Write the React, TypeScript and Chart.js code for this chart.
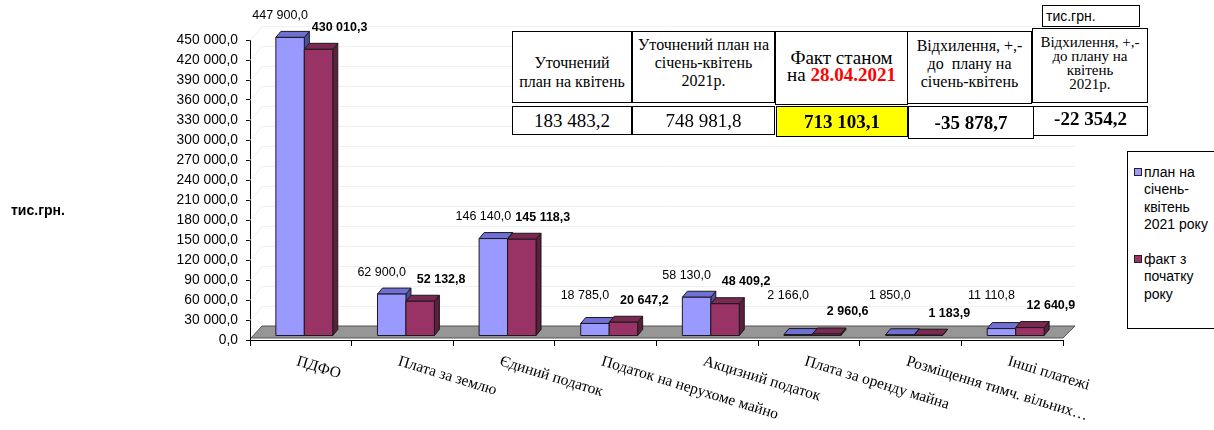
import React, { useEffect, useRef } from "react";
import { Chart, registerables } from "chart.js";

Chart.register(...registerables);

// ---------- data ----------
const categories = [
  "ПДФО",
  "Плата за землю",
  "Єдиний податок",
  "Податок на нерухоме майно",
  "Акцизний податок",
  "Плата за оренду майна",
  "Розміщення тимч. вільних…",
  "Інші платежі",
];
const planValues = [447900.0, 62900.0, 146140.0, 18785.0, 58130.0, 2166.0, 1850.0, 11110.8];
const factValues = [430010.3, 52132.8, 145118.3, 20647.2, 48409.2, 2960.6, 1183.9, 12640.9];
const seriesNames = ["план на січень-квітень 2021 року", "факт з початку року"];
const legendLines = [
  ["план на", "січень-", "квітень", "2021 року"],
  ["факт з", "початку", "року"],
];
const yMin = 0;
const yMax = 450000;
const yStep = 30000;
const unitLabel = "тис.грн.";
const tableHeaders = [
  ["Уточнений", "план на квітень"],
  ["Уточнений план на", "січень-квітень", "2021р."],
  ["Факт станом", "на "],
  ["Відхилення, +,-", "до  плану на", "січень-квітень"],
  ["Відхилення, +,-", "до плану на", "квітень", "2021р."],
];
const factDate = "28.04.2021";
const tableValues = [183483.2, 748981.8, 713103.1, -35878.7, -22354.2];

// ---------- helpers ----------
function fmt(v: number): string {
  const s = Math.abs(v).toFixed(1);
  const [i, d] = s.split(".");
  const g = i.replace(/\B(?=(\d{3})+(?!\d))/g, " ");
  return (v < 0 ? "-" : "") + g + "," + d;
}

const SANS = "'Liberation Sans', Arial, sans-serif";
const SERIF = "'Liberation Serif', 'Times New Roman', serif";

const DX = 3.5;
const DY = -4;
const DEPTH_X = 5;
const DEPTH_Y = 6;
const faceColors = [
  { front: "#9999FF", top: "#7070D4", side: "#4D4DA8" },
  { front: "#993366", top: "#7A2952", side: "#5C1F3D" },
];

function poly(ctx: CanvasRenderingContext2D, pts: number[][], fill: string) {
  ctx.beginPath();
  ctx.moveTo(pts[0][0], pts[0][1]);
  for (let k = 1; k < pts.length; k++) ctx.lineTo(pts[k][0], pts[k][1]);
  ctx.closePath();
  ctx.fillStyle = fill;
  ctx.fill();
  ctx.stroke();
}

const excel3d = {
  id: "excel3d",
  beforeDatasetsDraw(chart: any) {
    const { ctx, chartArea, scales } = chart;
    const { left, right, bottom } = chartArea;
    const y = scales.y;
    ctx.save();
    // faint back-wall grid lines
    ctx.strokeStyle = "#f0f0f0";
    ctx.lineWidth = 1;
    for (let v = yMin + yStep; v <= yMax; v += yStep) {
      const py = Math.round(y.getPixelForValue(v)) + 0.5;
      ctx.beginPath();
      ctx.moveTo(left, py);
      ctx.lineTo(left + 12, py - 14);
      ctx.lineTo(right + 12, py - 14);
      ctx.stroke();
    }
    // floor
    ctx.strokeStyle = "#555";
    ctx.lineWidth = 1;
    poly(
      ctx,
      [
        [left + 1, bottom - 2],
        [left + 12, bottom - 14],
        [right + 12, bottom - 14],
        [right, bottom - 2],
      ],
      "#969696"
    );
    ctx.restore();
  },
  afterDatasetsDraw(chart: any) {
    const { ctx, chartArea, scales } = chart;
    const x = scales.x;
    ctx.save();
    ctx.lineWidth = 1;
    ctx.strokeStyle = "#1a1a1a";
    ctx.lineJoin = "round";
    const tops: number[][] = [[], []];
    const centers: number[][] = [[], []];
    for (let i = 0; i < categories.length; i++) {
      for (let d = 0; d < 2; d++) {
        const el = chart.getDatasetMeta(d).data[i];
        const p = el.getProps(["x", "y", "base", "width"], true);
        const l = p.x - p.width / 2 + DX;
        const r = p.x + p.width / 2 + DX;
        const t = p.y + DY;
        const b = p.base + DY;
        const c = faceColors[d];
        poly(ctx, [[r, b], [r + DEPTH_X, b - DEPTH_Y], [r + DEPTH_X, t - DEPTH_Y], [r, t]], c.side);
        poly(ctx, [[l, t], [l + DEPTH_X, t - DEPTH_Y], [r + DEPTH_X, t - DEPTH_Y], [r, t]], c.top);
        poly(ctx, [[l, t], [r, t], [r, b], [l, b]], c.front);
        tops[d][i] = t;
        centers[d][i] = (l + r) / 2;
      }
    }
    // data labels
    ctx.fillStyle = "#000";
    ctx.textAlign = "center";
    ctx.textBaseline = "middle";
    for (let i = 0; i < categories.length; i++) {
      ctx.font = `12.5px ${SANS}`;
      ctx.fillText(fmt(planValues[i]), centers[0][i] - 10, Math.min(tops[0][i] - 22, 296));
      ctx.font = `bold 12.5px ${SANS}`;
      ctx.fillText(fmt(factValues[i]), centers[1][i] + 21, Math.min(tops[1][i] - 22, 314));
    }
    // rotated category labels
    const ang = (17 * Math.PI) / 180;
    ctx.font = `15.5px ${SERIF}`;
    ctx.textAlign = "left";
    ctx.textBaseline = "alphabetic";
    for (let i = 0; i < categories.length; i++) {
      const cx = x.getPixelForValue(i);
      ctx.save();
      ctx.translate(cx - 2, chartArea.bottom + 15);
      ctx.rotate(ang);
      ctx.fillText(categories[i], 0, 10.5);
      ctx.restore();
    }
    ctx.restore();
  },
};

export default function App() {
  const ref = useRef<HTMLCanvasElement | null>(null);

  useEffect(() => {
    if (!ref.current) return;
    const chart = new Chart(ref.current, {
      type: "bar",
      data: {
        labels: categories,
        datasets: [
          {
            label: seriesNames[0],
            data: planValues,
            backgroundColor: "rgba(0,0,0,0)",
            borderWidth: 0,
            clip: false as any,
          },
          {
            label: seriesNames[1],
            data: factValues,
            backgroundColor: "rgba(0,0,0,0)",
            borderWidth: 0,
            clip: false as any,
          },
        ],
      },
      options: {
        responsive: false,
        animation: false,
        events: [],
        layout: { padding: { left: 0, top: 40, right: 151, bottom: 84 } },
        datasets: { bar: { categoryPercentage: 0.56, barPercentage: 1.0 } },
        plugins: { legend: { display: false }, tooltip: { enabled: false } },
        scales: {
          x: {
            offset: true,
            grid: {
              offset: true,
              drawOnChartArea: false,
              tickLength: 6,
              color: "#000",
              tickColor: "#000",
            },
            border: { display: true, color: "#000", width: 1 },
            ticks: { display: false },
            afterFit: (s: any) => {
              s.height = 6;
            },
          },
          y: {
            min: yMin,
            max: yMax,
            grid: {
              drawOnChartArea: false,
              tickLength: 4,
              color: "#000",
              tickColor: "#000",
            },
            border: { display: true, color: "#000", width: 1 },
            ticks: {
              stepSize: yStep,
              padding: 8,
              color: "#000",
              font: { family: SANS, size: 13.8 },
              callback: (v: any) => fmt(Number(v)),
            },
            afterFit: (s: any) => {
              s.width = 250;
            },
          },
        },
      },
      plugins: [excel3d],
    });
    return () => chart.destroy();
  }, []);

  const cell = (
    left: number,
    top: number,
    w: number,
    h: number,
    extra: React.CSSProperties = {}
  ): React.CSSProperties => ({
    position: "absolute",
    left,
    top,
    width: w,
    height: h,
    boxSizing: "border-box",
    border: "1.5px solid #000",
    display: "flex",
    alignItems: "center",
    justifyContent: "center",
    textAlign: "center",
    fontFamily: SERIF,
    color: "#000",
    background: "#fff",
    ...extra,
  });

  const lines = (arr: string[]) =>
    arr.map((s, k) => (
      <React.Fragment key={k}>
        {k > 0 && <br />}
        {s}
      </React.Fragment>
    ));

  return (
    <div
      style={{
        position: "absolute",
        left: 0,
        top: 0,
        width: 1214,
        height: 430,
        overflow: "hidden",
        background: "#fff",
      }}
    >
      <canvas
        ref={ref}
        width={1214}
        height={430}
        style={{ position: "absolute", left: 0, top: 0 }}
      />
      {/* unit label at left */}
      <div
        style={{
          position: "absolute",
          left: 11,
          top: 201,
          fontFamily: SANS,
          fontWeight: "bold",
          fontSize: 14,
          lineHeight: "18px",
        }}
      >
        {unitLabel}
      </div>

      {/* table */}
      <div
        style={{
          ...cell(1042, 5, 98, 22, { justifyContent: "flex-start", paddingLeft: 3 }),
          fontFamily: SANS,
          fontSize: 14,
        }}
      >
        {unitLabel}
      </div>
      <div style={cell(512, 31, 120, 72, { fontSize: 16, lineHeight: "19px", paddingTop: 10 })}>
        <div>{lines(tableHeaders[0])}</div>
      </div>
      <div style={cell(632, 31, 143, 72, { fontSize: 16, lineHeight: "18px", paddingBottom: 8 })}>
        <div>{lines(tableHeaders[1])}</div>
      </div>
      <div style={cell(775, 31, 133, 74, { fontSize: 19, lineHeight: "17px", paddingBottom: 4 })}>
        <div>
          {tableHeaders[2][0]}
          <br />
          {tableHeaders[2][1]}
          <span style={{ color: "#FF0000", fontWeight: "bold" }}>{factDate}</span>
        </div>
      </div>
      <div style={cell(907, 31, 125, 73, { fontSize: 16, lineHeight: "18px", paddingBottom: 7 })}>
        <div style={{ whiteSpace: "pre" }}>{lines(tableHeaders[3])}</div>
      </div>
      <div style={cell(1032, 28, 116, 75, { fontSize: 15, lineHeight: "14px", paddingBottom: 6 })}>
        <div>{lines(tableHeaders[4])}</div>
      </div>

      <div style={cell(512, 106, 120, 29, { fontSize: 19 })}>{fmt(tableValues[0])}</div>
      <div style={cell(632, 106, 143, 29, { fontSize: 19 })}>{fmt(tableValues[1])}</div>
      <div
        style={cell(776, 106, 132, 31, {
          fontSize: 19,
          fontWeight: "bold",
          background: "#FFFF00",
        })}
      >
        {fmt(tableValues[2])}
      </div>
      <div style={cell(908, 106, 126, 33, { fontSize: 19, fontWeight: "bold" })}>
        {fmt(tableValues[3])}
      </div>
      <div style={cell(1033, 106, 115, 30, { fontSize: 19, fontWeight: "bold", paddingBottom: 4 })}>
        {fmt(tableValues[4])}
      </div>

      {/* legend */}
      <div
        style={{
          position: "absolute",
          left: 1127,
          top: 151,
          width: 110,
          height: 178,
          boxSizing: "border-box",
          border: "1px solid #000",
          background: "#fff",
        }}
      />
      {[0, 1].map((d) => (
        <React.Fragment key={d}>
          <div
            style={{
              position: "absolute",
              left: 1134,
              top: d === 0 ? 168 : 255,
              width: 8,
              height: 8,
              boxSizing: "border-box",
              background: faceColors[d].front,
              border: "1px solid #222",
            }}
          />
          <div
            style={{
              position: "absolute",
              left: 1144,
              top: d === 0 ? 164 : 251,
              fontFamily: SANS,
              fontSize: 14,
              lineHeight: "17.3px",
              whiteSpace: "nowrap",
              color: "#000",
            }}
          >
            {lines(legendLines[d])}
          </div>
        </React.Fragment>
      ))}
    </div>
  );
}
